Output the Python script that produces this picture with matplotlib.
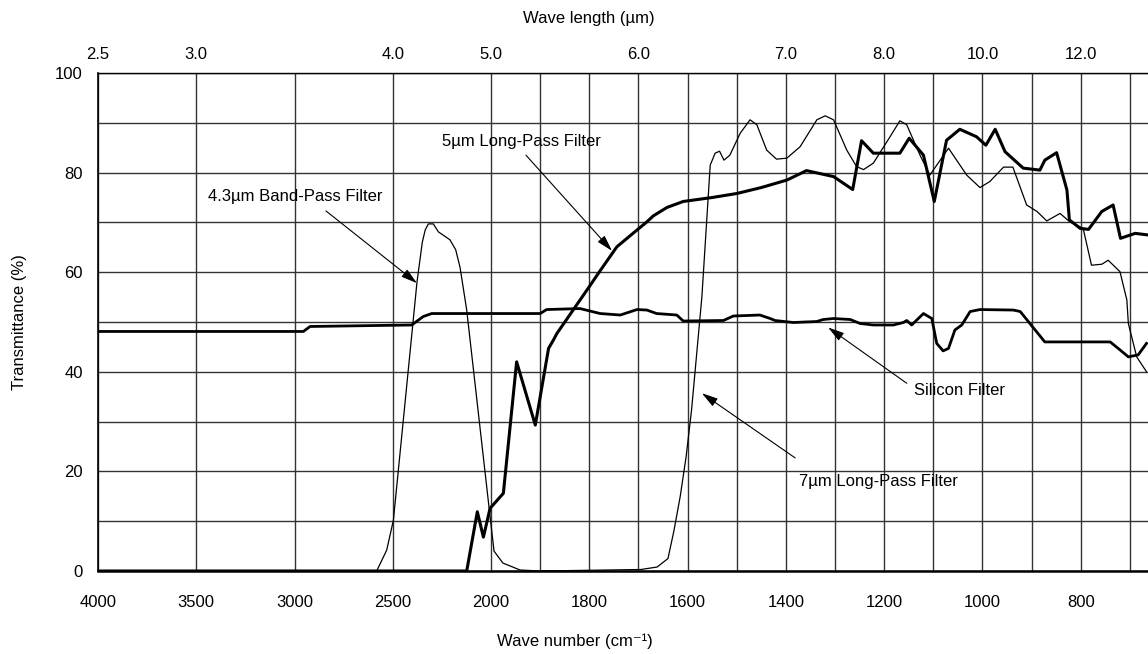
import matplotlib.pyplot as plt
import numpy as np

plt.rcParams['font.family'] = ['Liberation Sans', 'DejaVu Sans']

# wave number (cm-1) and transmittance (%)

band_wn = [4000, 2582, 2531, 2497, 2377, 2350, 2335, 2319, 2294, 2268, 2209, 2180, 2158, 2124, 2005, 1994, 1976, 1941, 1900, 1800]
band_t = [0, 0, 4.2, 10.2, 58.0, 66.0, 68.5, 69.7, 69.7, 68.1, 66.5, 64.5, 61.0, 52.4, 10.9, 4.0, 1.6, 0.2, 0, 0]

lp5_wn = [4000, 2124, 2070, 2039, 2005, 1975, 1948, 1910, 1883, 1873, 1866, 1805, 1778, 1744, 1710, 1683, 1670, 1642, 1609,
          1550, 1500, 1450, 1398, 1358, 1303, 1264, 1246, 1222, 1168, 1149, 1120, 1098, 1073, 1046, 1012, 993, 974,
          954, 917, 883, 873, 849, 828, 823, 801, 784, 757, 734, 719, 689, 665]
lp5_t = [0, 0, 11.9, 6.8, 12.6, 15.6, 42.0, 29.3, 44.7, 46.4, 47.7, 56.4, 60.3, 65.1, 67.9, 70.1, 71.3, 73.0, 74.2,
         75.0, 75.8, 77.0, 78.5, 80.4, 79.2, 76.6, 86.4, 83.9, 83.9, 86.9, 83.5, 74.2, 86.5, 88.7, 87.2, 85.5, 88.7,
         84.2, 80.9, 80.5, 82.5, 84.0, 76.5, 70.5, 68.8, 68.6, 72.2, 73.5, 66.8, 67.8, 67.5]

lp7_wn = [1900, 1695, 1662, 1640, 1628, 1615, 1603, 1592, 1571, 1554, 1544, 1535, 1526, 1514, 1493, 1473, 1459, 1439,
          1419, 1398, 1371, 1337, 1320, 1303, 1276, 1256, 1242, 1222, 1188, 1168, 1154, 1127, 1107, 1069, 1032, 1005,
          985, 957, 938, 910, 889, 869, 842, 822, 795, 778, 757, 744, 720, 706, 703, 686, 666]
lp7_t = [0, 0.3, 0.8, 2.5, 8.0, 15.0, 23.0, 32.3, 55.0, 81.5, 83.9, 84.3, 82.5, 83.5, 87.9, 90.6, 89.6, 84.5,
         82.7, 82.9, 85.2, 90.6, 91.4, 90.6, 84.5, 81.2, 80.6, 81.9, 87.2, 90.4, 89.6, 83.5, 79.5, 84.9, 79.5, 77.0,
         78.2, 81.1, 81.1, 73.5, 72.2, 70.3, 71.8, 70.1, 68.8, 61.4, 61.6, 62.4, 60.1, 54.4, 49.7, 43.0, 40.0]

si_wn = [4000, 2955, 2921, 2404, 2345, 2302, 1900, 1887, 1819, 1778, 1737, 1703, 1683, 1663, 1622, 1609, 1527, 1507,
         1453, 1432, 1422, 1385, 1337, 1324, 1303, 1269, 1249, 1222, 1181, 1161, 1154, 1144, 1120, 1103, 1093, 1080,
         1069, 1056, 1042, 1025, 1005, 937, 923, 873, 740, 720, 703, 683, 666]
si_t = [48.1, 48.1, 49.1, 49.4, 51.1, 51.7, 51.7, 52.5, 52.7, 51.7, 51.4, 52.5, 52.4, 51.7, 51.4, 50.2, 50.3, 51.2,
        51.4, 50.7, 50.3, 49.9, 50.1, 50.5, 50.7, 50.5, 49.7, 49.4, 49.4, 49.9, 50.3, 49.4, 51.7, 50.7, 45.7, 44.2,
        44.7, 48.4, 49.4, 52.1, 52.5, 52.4, 52.1, 46.0, 46.0, 44.4, 43.0, 43.4, 45.7]

bottom_ticks = [4000, 3500, 3000, 2500, 2000, 1800, 1600, 1400, 1200, 1000, 800]
minor_ticks = [1900, 1700, 1500, 1300, 1100, 900, 700]
top_ticks = [4000, 3500, 2500, 2000, 1700, 1400, 1200, 1000, 800]
top_labels = ['2.5', '3.0', '4.0', '5.0', '6.0', '7.0', '8.0', '10.0', '12.0']


# axis is 500 cm-1 per division above 2000, 200 cm-1 per division below
def fwd(w):
    w = np.asarray(w, dtype=float)
    return np.where(w >= 2000, (w - 2000) / 500.0, (w - 2000) / 200.0)


def inv(u):
    u = np.asarray(u, dtype=float)
    return np.where(u >= 0, 2000 + 500.0 * u, 2000 + 200.0 * u)


fig = plt.figure(figsize=(11.48, 6.54), dpi=100)
ax = fig.add_axes([98 / 1148, 1 - 571 / 654, 1 - 98 / 1148, (571 - 73) / 654])
ax.set_xscale('function', functions=(fwd, inv))
ax.set_xlim(4000, 663)
ax.set_ylim(0, 100)

ax.set_xticks(bottom_ticks)
ax.set_xticklabels([str(t) for t in bottom_ticks])
ax.set_xticks(minor_ticks, minor=True)
ax.set_yticks([0, 20, 40, 60, 80, 100])
ax.set_yticks([10, 30, 50, 70, 90], minor=True)
ax.grid(True, which='both', color='#333333', lw=1.0)
ax.set_axisbelow(True)
ax.tick_params(which='both', length=0, labelsize=12)
ax.tick_params(axis='x', pad=17)
ax.tick_params(axis='y', pad=11)

ax.spines['right'].set_visible(False)
ax.spines['top'].set_linewidth(1.0)
ax.spines['left'].set_linewidth(1.2)
ax.spines['bottom'].set_linewidth(1.8)

ax.plot(si_wn, si_t, color='k', lw=2.0, zorder=3)
ax.plot(lp5_wn, lp5_t, color='k', lw=2.2, zorder=3)
ax.plot(band_wn, band_t, color='k', lw=0.9, zorder=3)
ax.plot(lp7_wn, lp7_t, color='k', lw=0.9, zorder=3)

# top axis in wave length
ax2 = ax.twiny()
ax2.set_xscale('function', functions=(fwd, inv))
ax2.set_xlim(ax.get_xlim())
ax2.set_xticks(top_ticks)
ax2.set_xticklabels(top_labels)
ax2.set_xticks([], minor=True)
ax2.tick_params(length=0, labelsize=12, pad=8)
for s in ax2.spines.values():
    s.set_visible(False)

arrow = dict(arrowstyle='-|>,head_length=0.7,head_width=0.2', color='k', lw=0.8,
             shrinkA=0, shrinkB=0, mutation_scale=14)

ax.text(2997, 75.3, '4.3\u00b5m Band-Pass Filter', ha='center', va='center', fontsize=12)
ax.annotate('', xy=(2377, 57.8), xytext=(2840, 72.3), arrowprops=arrow)

ax.text(1939, 86.3, '5\u00b5m Long-Pass Filter', ha='center', va='center', fontsize=12)
ax.annotate('', xy=(1754, 64.3), xytext=(1929, 83.5), arrowprops=arrow)

ax.text(1046, 36.3, 'Silicon Filter', ha='center', va='center', fontsize=12)
ax.annotate('', xy=(1314, 48.9), xytext=(1154, 37.7), arrowprops=arrow)

ax.text(1212, 17.9, '7\u00b5m Long-Pass Filter', ha='center', va='center', fontsize=12)
ax.annotate('', xy=(1571, 35.7), xytext=(1381, 22.7), arrowprops=arrow)

fig.text(589 / 1148, 1 - 18 / 654, 'Wave length (\u00b5m)', ha='center', va='center', fontsize=12)
fig.text(575 / 1148, 1 - 641 / 654, 'Wave number (cm\u207b\u00b9)', ha='center', va='center', fontsize=12)
fig.text(20 / 1148, 1 - 322 / 654, 'Transmittance (%)', ha='center', va='center', rotation=90, fontsize=12)

fig.savefig('out.png', dpi=100)
